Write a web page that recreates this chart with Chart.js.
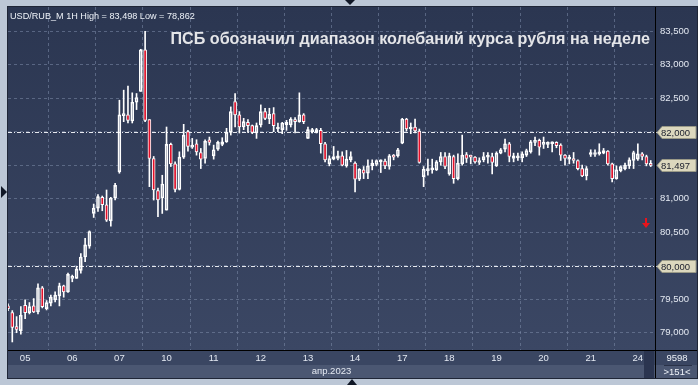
<!DOCTYPE html>
<html><head><meta charset="utf-8">
<script src="https://cdn.jsdelivr.net/npm/chart.js@4.4.1/dist/chart.umd.min.js"></script>
<style>html,body{margin:0;padding:0;background:#bcc7d6;}canvas{display:block}</style>
</head><body>
<canvas id="c" width="698" height="385"></canvas>
<script>
// ---- data ----
const days = ['04','05','06','07','10','11','12','13','14','17','18','19','20','21','24'];
const barsPerDay = [4,11,11,11,11,11,11,11,11,11,11,11,11,11,4];
const hours = ['10:00','11:00','12:00','13:00','14:00','15:00','16:00','17:00','18:00','19:00','20:00'];

const openP = [79.40,79.30,79.09,79.03,79.41,79.30,79.40,79.31,79.67,79.36,
79.44,79.49,79.55,79.70,79.61,79.81,79.81,79.93,80.13,80.29,
80.78,80.86,81.02,80.91,80.67,81.01,81.40,82.24,82.25,82.16,
82.44,82.60,83.22,82.18,81.60,81.12,81.01,80.83,81.81,81.52,
81.14,81.62,82.00,81.77,81.82,81.69,81.60,81.88,81.64,81.74,
81.81,81.85,81.99,82.45,82.25,82.07,82.14,82.09,81.98,82.10,
82.30,82.19,82.27,82.04,82.03,82.10,82.10,82.18,82.15,82.25,
81.90,82.00,82.00,82.02,81.82,81.52,81.59,81.60,81.64,81.49,
81.58,81.53,81.29,81.43,81.38,81.49,81.51,81.55,81.56,81.48,
81.64,81.64,81.83,82.19,82.04,82.07,82.01,81.33,81.42,81.43,
81.43,81.55,81.63,81.37,81.63,81.30,81.52,81.66,81.65,81.62,
81.54,81.58,81.62,81.63,81.49,81.68,81.74,81.82,81.60,81.61,
81.61,81.65,81.70,81.84,81.87,81.81,81.81,81.82,81.84,81.80,
81.65,81.59,81.60,81.57,81.45,81.34,81.66,81.66,81.67,81.68,
81.71,81.52,81.30,81.42,81.45,81.49,81.57,81.59,81.67,81.63,
81.52];
const highP = [79.43,79.33,79.24,79.39,79.49,79.45,79.51,79.73,79.69,79.48,
79.56,79.61,79.74,79.71,79.89,79.86,79.99,80.18,80.41,80.52,
80.92,81.06,81.04,81.13,81.02,81.23,82.47,82.62,82.68,82.58,
82.57,83.23,83.498,82.18,81.63,81.16,81.35,82.07,81.83,81.55,
81.70,82.11,82.02,81.90,81.88,81.75,81.88,81.92,81.80,81.86,
81.91,82.05,82.37,82.57,82.30,82.20,82.18,82.10,82.13,82.40,
82.35,82.35,82.36,82.13,82.14,82.17,82.21,82.21,82.58,82.27,
82.07,82.05,82.05,82.05,81.84,81.64,81.78,81.71,81.70,81.72,
81.70,81.55,81.45,81.48,81.58,81.58,81.58,81.58,81.59,81.66,
81.66,81.75,82.20,82.20,82.13,82.19,82.04,81.48,81.59,81.59,
81.57,81.69,81.69,81.68,81.65,81.67,81.95,81.69,81.65,81.63,
81.61,81.69,81.69,81.68,81.70,81.75,81.89,81.84,81.68,81.68,
81.70,81.74,81.87,81.92,81.89,81.92,81.85,81.85,81.85,81.82,
81.66,81.65,81.69,81.58,81.50,81.48,81.73,81.73,81.82,81.75,
81.72,81.53,81.49,81.49,81.53,81.61,81.71,81.82,81.69,81.65,
81.57];
const lowP = [79.33,78.862,79.00,78.98,79.21,79.28,79.30,79.28,79.37,79.34,
79.40,79.46,79.40,79.53,79.60,79.76,79.81,79.89,80.06,80.26,
80.72,80.81,80.82,80.66,80.59,80.98,81.38,82.15,82.13,82.13,
82.33,82.60,82.15,81.18,80.98,80.73,80.78,80.83,81.48,81.10,
81.13,81.60,81.71,81.75,81.65,81.45,81.53,81.80,81.59,81.72,
81.79,81.84,81.95,82.07,81.98,82.03,81.99,81.97,81.90,82.07,
82.18,82.12,82.00,82.00,81.97,82.02,82.07,81.98,82.14,82.12,
81.90,81.98,81.98,81.68,81.55,81.49,81.58,81.58,81.49,81.47,
81.55,81.10,81.27,81.30,81.30,81.43,81.49,81.39,81.45,81.44,
81.58,81.62,81.82,82.01,81.97,81.98,81.53,81.18,81.35,81.38,
81.42,81.50,81.45,81.35,81.23,81.28,81.50,81.54,81.52,81.53,
81.51,81.55,81.53,81.37,81.48,81.67,81.70,81.55,81.55,81.57,
81.55,81.63,81.68,81.79,81.65,81.75,81.76,81.70,81.76,81.57,
81.50,81.52,81.53,81.43,81.33,81.28,81.63,81.63,81.65,81.67,
81.50,81.25,81.29,81.40,81.43,81.45,81.45,81.57,81.58,81.49,
81.48];
const closeP = [79.36,79.08,79.05,79.26,79.30,79.39,79.31,79.67,79.39,79.45,
79.53,79.56,79.70,79.61,79.87,79.84,79.95,80.13,80.31,80.51,
80.86,81.03,80.91,80.68,81.01,81.20,82.25,82.27,82.17,82.44,
82.51,83.22,82.17,81.60,81.13,80.98,81.22,81.81,81.52,81.14,
81.62,81.95,81.78,81.80,81.70,81.59,81.86,81.84,81.73,81.84,
81.85,81.99,82.30,82.25,82.07,82.15,82.09,81.99,82.09,82.30,
82.20,82.26,82.09,82.07,82.13,82.14,82.19,82.15,82.25,82.15,
82.03,82.02,82.02,81.82,81.58,81.60,81.63,81.64,81.50,81.59,
81.63,81.29,81.44,81.38,81.49,81.53,81.57,81.57,81.49,81.64,
81.62,81.73,82.19,82.04,82.07,82.01,81.54,81.44,81.44,81.45,
81.55,81.63,81.48,81.64,81.30,81.53,81.65,81.60,81.62,81.55,
81.57,81.63,81.64,81.54,81.68,81.73,81.82,81.63,81.64,81.64,
81.67,81.72,81.85,81.87,81.77,81.84,81.83,81.84,81.79,81.65,
81.60,81.60,81.57,81.45,81.34,81.45,81.68,81.69,81.69,81.72,
81.52,81.30,81.43,81.48,81.50,81.58,81.69,81.67,81.63,81.52,
81.497];

const priceTicks = [79,79.5,80,80.5,81,81.5,82,82.5,83,83.5];
const markedLevels = [82, 80];
const monthLabel = 'апр.2023';
const titleText = 'ПСБ обозначил диапазон колебаний курса рубля на неделе';
const symbolText = 'USD/RUB_M 1H';
const totalBarsText = '9598';

// ---- tables built for the library ----
const labels = [];
const dayStart = new Set();
days.forEach((d, k) => {
  const n = barsPerDay[k];
  const first = (k === 0) ? hours.length - n : 0;
  for (let j = 0; j < n; j++) {
    if (j === 0 && k > 0) dayStart.add(labels.length);
    labels.push(d + ' ' + hours[first + j]);
  }
});
const barCountText = '>' + openP.length + '<';
labels.push(''); // free slot on the right edge

const bodies = openP.map((o, i) => [o, closeP[i]]);
const upperWicks = openP.map((o, i) => [Math.max(o, closeP[i]), highP[i]]);
const lowerWicks = openP.map((o, i) => [lowP[i], Math.min(o, closeP[i])]);

const fmt = v => v.toFixed(3).replace('.', ',');
const FONT = '"Liberation Sans", Arial, sans-serif';

const framePlugin = {
  id: 'frame',
  beforeDraw(chart) {
    const {ctx, chartArea: a, width: W, height: H} = chart;
    ctx.save();
    ctx.fillStyle = '#bcc7d6';
    ctx.fillRect(0, 0, W, H);
    const g = ctx.createLinearGradient(0, a.top, 0, a.bottom);
    g.addColorStop(0, '#2b3651');
    g.addColorStop(1, '#3b4764');
    ctx.fillStyle = g;
    ctx.fillRect(a.left, a.top, W - 1 - a.left, a.bottom - a.top);
    ctx.fillStyle = '#3a4662';
    ctx.fillRect(a.left, a.bottom, W - 1 - a.left, 15);
    ctx.fillStyle = '#4b5772';
    ctx.fillRect(a.left, a.bottom + 15, W - 1 - a.left, 13);
    ctx.fillStyle = '#2b3550';
    ctx.fillRect(a.right - 11, a.bottom + 1, 10, 27);
    ctx.strokeStyle = '#1f2637';
    ctx.lineWidth = 1;
    ctx.strokeRect(a.left - 0.5, a.top - 0.5, W - a.left, H - 7 - a.top + 1);
    ctx.strokeStyle = '#000000';
    ctx.beginPath();
    ctx.moveTo(a.right + 0.5, a.top); ctx.lineTo(a.right + 0.5, H - 7);
    ctx.moveTo(a.left, a.bottom + 0.5); ctx.lineTo(W - 1, a.bottom + 0.5);
    ctx.stroke();
    ctx.fillStyle = '#111827';
    ctx.beginPath(); ctx.moveTo(1, 186); ctx.lineTo(7, 192); ctx.lineTo(1, 198); ctx.fill();
    ctx.beginPath(); ctx.moveTo(345, 0); ctx.lineTo(355, 0); ctx.lineTo(350, 5); ctx.fill();
    ctx.beginPath(); ctx.moveTo(347, 385); ctx.lineTo(357, 385); ctx.lineTo(352, 379); ctx.fill();
    ctx.restore();
  },
  beforeDatasetsDraw(chart) {
    const {ctx, chartArea: a, scales: {y}} = chart;
    ctx.save();
    ctx.strokeStyle = '#e6e9ef';
    ctx.lineWidth = 1;
    ctx.setLineDash([4, 2, 1, 2]);
    markedLevels.forEach(v => {
      const py = Math.round(y.getPixelForValue(v)) + 0.5;
      ctx.beginPath(); ctx.moveTo(a.left, py); ctx.lineTo(a.right + 3, py); ctx.stroke();
    });
    ctx.restore();
  },
  afterDraw(chart) {
    const {ctx, chartArea: a, scales: {y}, width: W} = chart;
    ctx.save();
    const hi = Math.max(...highP), lo = Math.min(...lowP);
    const head = symbolText + ' High = ' + fmt(hi) + ' Low = ' + fmt(lo);
    ctx.font = '10px ' + FONT;
    let sc = 185 / ctx.measureText(head).width;
    ctx.font = (10 * sc).toFixed(2) + 'px ' + FONT;
    ctx.fillStyle = '#eef2f8';
    ctx.textBaseline = 'alphabetic';
    ctx.textAlign = 'left';
    ctx.fillText(head, 10, 19);
    ctx.font = 'bold 16px ' + FONT;
    sc = 480 / ctx.measureText(titleText).width;
    ctx.font = 'bold ' + (16 * sc).toFixed(2) + 'px ' + FONT;
    ctx.fillStyle = '#e4e5e8';
    ctx.textAlign = 'right';
    ctx.fillText(titleText, 650, 44);
    const boxes = markedLevels.concat([closeP[closeP.length - 1]]);
    ctx.font = '9.5px ' + FONT;
    ctx.textAlign = 'left';
    ctx.textBaseline = 'middle';
    boxes.forEach(v => {
      const py = Math.round(y.getPixelForValue(v)) + 0.5;
      const x0 = a.right + 2;
      ctx.beginPath();
      ctx.moveTo(x0, py);
      ctx.lineTo(x0 + 5, py - 6);
      ctx.lineTo(W - 2, py - 6);
      ctx.lineTo(W - 2, py + 6);
      ctx.lineTo(x0 + 5, py + 6);
      ctx.closePath();
      ctx.fillStyle = '#dcd8be';
      ctx.fill();
      ctx.strokeStyle = '#9a9a88';
      ctx.lineWidth = 1;
      ctx.stroke();
      ctx.fillStyle = '#1a1e2c';
      ctx.fillText(fmt(v), a.right + 6, py + 0.5);
    });
    ctx.fillStyle = '#e8141c';
    ctx.beginPath();
    ctx.rect(645, 218, 2, 6);
    ctx.moveTo(642, 223); ctx.lineTo(650, 223); ctx.lineTo(646, 228); ctx.closePath();
    ctx.fill();
    ctx.fillStyle = '#eef2f8';
    ctx.font = '9.5px ' + FONT;
    ctx.textAlign = 'center';
    ctx.fillText(totalBarsText, 677, 358);
    ctx.fillText(barCountText, 677, 372);
    ctx.strokeStyle = '#2a3248';
    ctx.beginPath(); ctx.moveTo(664, 365.5); ctx.lineTo(692, 365.5); ctx.stroke();
    ctx.restore();
  }
};

const gridColor = 'rgba(125,140,170,0.55)';
const tickColor = '#e4e9f2';

new Chart(document.getElementById('c'), {
  type: 'bar',
  data: {
    labels: labels,
    datasets: [
      { data: upperWicks, backgroundColor: '#ffffff', borderWidth: 0, barThickness: 1, grouped: false, order: 2 },
      { data: lowerWicks, backgroundColor: '#ffffff', borderWidth: 0, barThickness: 1, grouped: false, order: 2 },
      { data: bodies,
        backgroundColor: c => (closeP[c.dataIndex] < openP[c.dataIndex] ? '#e3102a' : 'rgba(0,0,0,0)'),
        borderColor: '#ffffff', borderWidth: 1, borderSkipped: false, barThickness: 3,
        minBarLength: 2, grouped: false, order: 1 }
    ]
  },
  options: {
    responsive: false,
    animation: false,
    events: [],
    layout: { padding: { left: 8, top: 7, right: 0, bottom: 7 } },
    plugins: { legend: { display: false }, tooltip: { enabled: false } },
    scales: {
      x: {
        type: 'category',
        offset: false,
        grid: { color: gridColor, drawTicks: false },
        border: { display: false, dash: [3, 3] },
        ticks: {
          autoSkip: false, maxRotation: 0, color: tickColor, padding: 3,
          font: { family: FONT, size: 9.5 },
          callback(v) { return this.getLabelForValue(v).slice(0, 2); }
        },
        afterBuildTicks(s) { s.ticks = s.ticks.filter(t => dayStart.has(t.value)); },
        afterFit(s) { s.height = 28; s.paddingLeft = 0; s.paddingRight = 0; },
        title: { display: true, text: monthLabel, color: tickColor, font: { family: FONT, size: 9.5 }, padding: { top: 0, bottom: 1 } }
      },
      y: {
        position: 'right',
        min: 78.742, max: 83.861,
        afterBuildTicks(s) { s.ticks = priceTicks.map(v => ({ value: v })); },
        afterFit(s) { s.width = 43; s.paddingTop = 0; s.paddingBottom = 0; },
        grid: { color: gridColor, drawTicks: false },
        border: { display: false, dash: [3, 3] },
        ticks: { color: tickColor, padding: 5, font: { family: FONT, size: 9.5 }, callback: v => fmt(v) }
      }
    }
  },
  plugins: [framePlugin]
});
</script>
</body></html>
